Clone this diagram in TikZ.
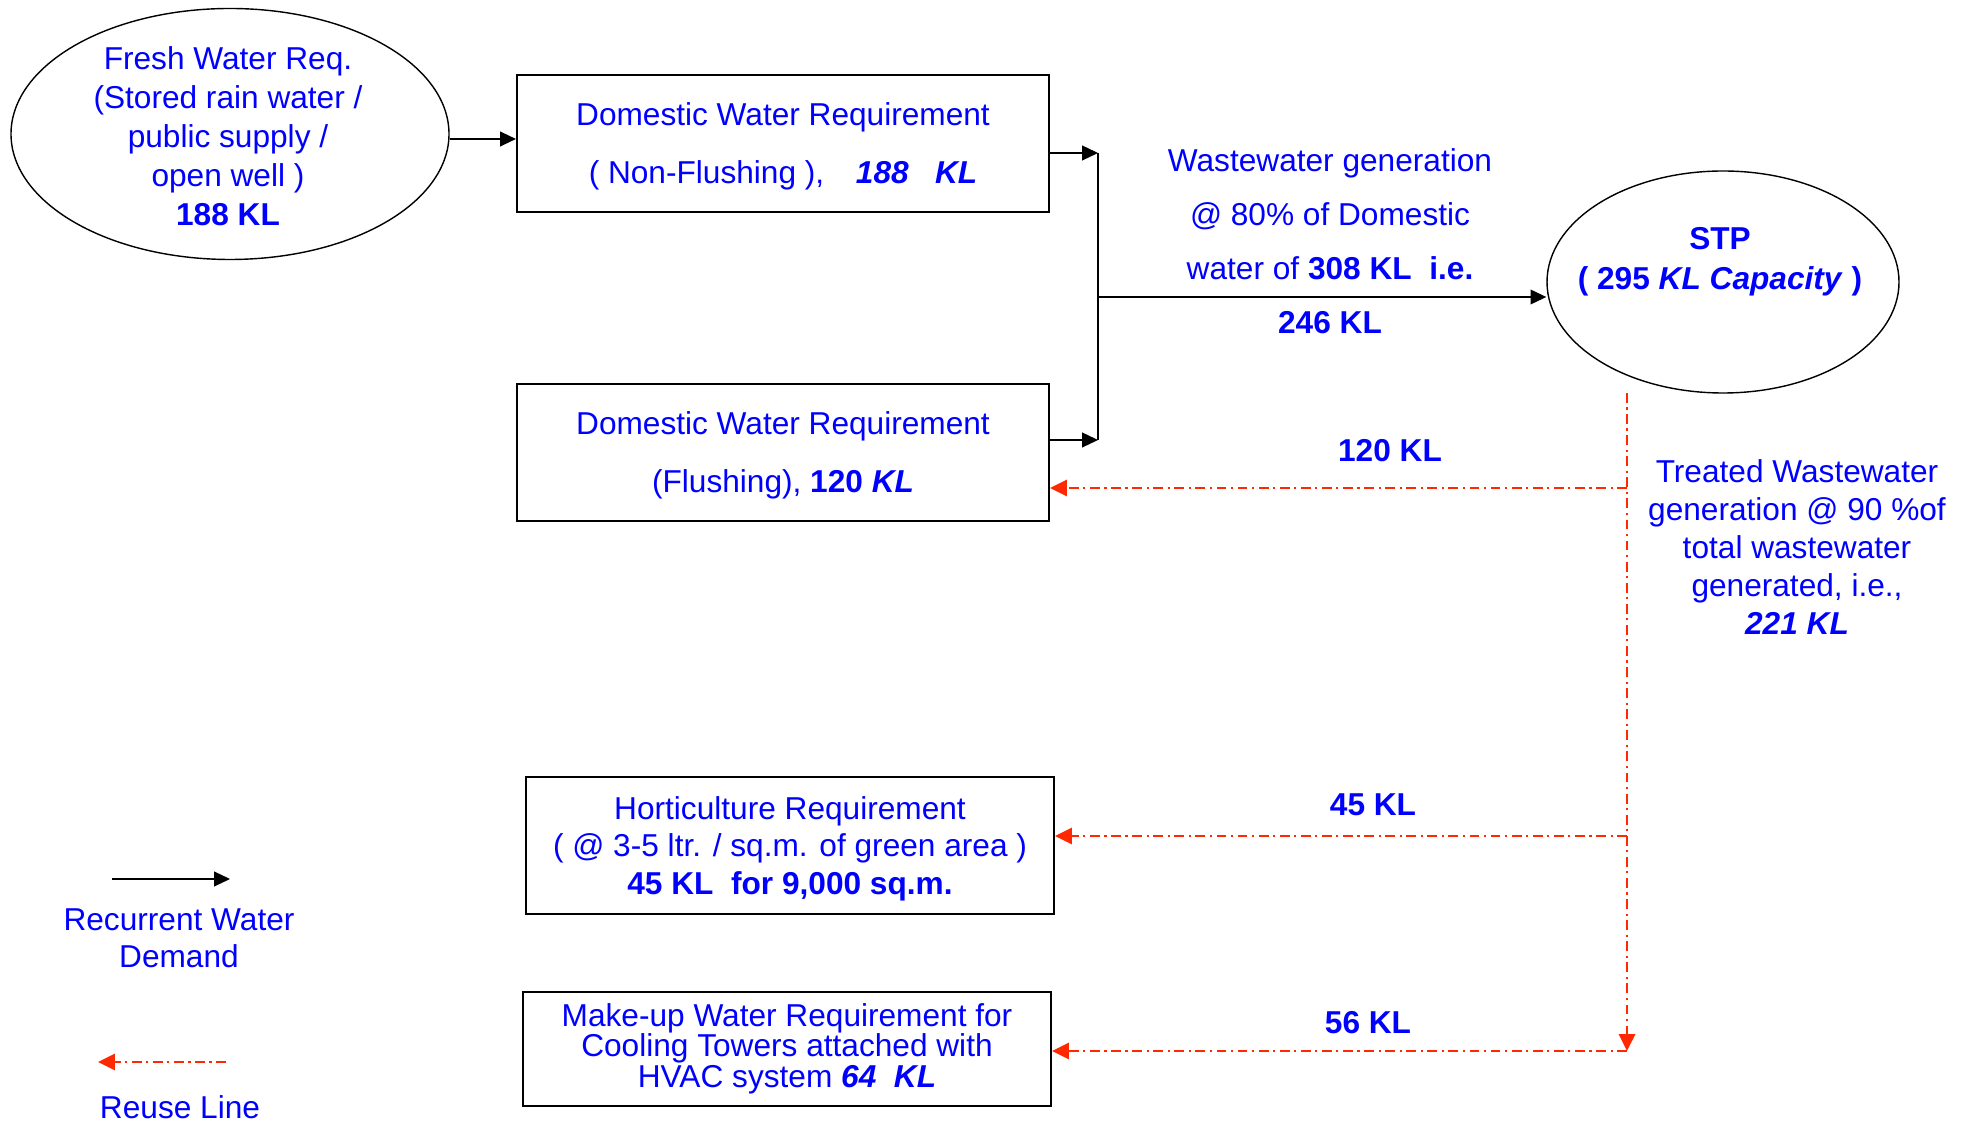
\documentclass[tikz,border=0pt]{standalone}
\usepackage{fontspec}
\setmainfont{Liberation Sans}
\usetikzlibrary{arrows.meta,shapes.geometric}
\definecolor{txtblue}{RGB}{0,0,255}
\definecolor{reusered}{RGB}{255,40,0}
\newcommand{\KL}[1]{\textbf{#1 KL}}

\begin{document}
\begin{tikzpicture}[
  >={Triangle[length=4.5pt,width=4.2pt]},
  every node/.style={text=txtblue, align=center, font=\fontsize{9}{11}\selectfont},
  lsp/.style={font=\fontsize{9}{#1}\selectfont},
  reqbox/.style={draw=black, semithick, minimum width=5.32cm, minimum height=1.37cm, inner sep=0pt, text depth=0pt},
  tank/.style={draw=black, ellipse, thin, inner sep=0pt},
  flow/.style={->, thin},
  reuse/.style={-{Triangle[length=4.8pt,width=4.6pt]}, reusered, line width=0.7pt, dash pattern=on 2.8pt off 1.3pt on 0.6pt off 1.3pt}
]
  \useasboundingbox (0,0) rectangle (19.69,-11.21);

  % Source
  \node[tank, minimum width=4.38cm, minimum height=2.51cm] (fresh) at (2.30,-1.34) {};
  \node[lsp=11.1pt] (freshtxt) at (2.28,-1.365)
    {Fresh Water Req.\\(Stored rain water /\\public supply /\\open well )\\\KL{188}};

  % Domestic demand
  \node[reqbox, lsp=16.5pt] (box1) at (7.83,-1.435)
    {Domestic Water Requirement\\( Non-Flushing ),\quad \textbf{\textit{188\ \ \ KL}}};
  \node[reqbox, lsp=16.5pt] (flush) at (7.83,-4.525)
    {Domestic Water Requirement\\(Flushing), \textbf{120 \textit{KL}}};

  % Reuse demand
  \node[reqbox, minimum width=5.28cm, lsp=10.7pt] (horti) at (7.90,-8.455)
    {Horticulture Requirement\\( @ 3-5 ltr. / sq.m. of green area )\\\textbf{45 KL\ \ for 9,000 sq.m.}};
  \node[reqbox, minimum width=5.28cm, minimum height=1.14cm, text depth=2pt, lsp=8.6pt] (makeup) at (7.87,-10.49)
    {Make-up Water Requirement for\\Cooling Towers attached with\\HVAC system \textbf{\textit{64\ \ KL}}};

  % STP
  \node[tank, minimum width=3.52cm, minimum height=2.22cm] (stp) at (17.23,-2.82) {};
  \node[lsp=11.5pt] (stptxt) at (17.20,-2.62) {\textbf{STP}\\\textbf{( 295 \textit{KL Capacity} )}};

  % Wastewater
  \coordinate (jtop) at (10.98,-1.53);
  \coordinate (jmid) at (10.98,-2.97);
  \coordinate (jbot) at (10.98,-4.40);
  \draw[flow] ([yshift=-0.05cm]fresh.east) -- ([yshift=-0.05cm]fresh.east -| box1.west);
  \draw[flow] (box1.east |- jtop) -- (jtop);
  \draw[flow] (flush.east |- jbot) -- (jbot);
  \draw[thin] (jtop) -- (jbot);
  \draw[flow] (jmid) -- (jmid -| stp.west);
  \node[lsp=15.4pt] (wwtxt) at (13.30,-2.41)
    {Wastewater generation\\@ 80\% of Domestic\\water of \textbf{308 KL\ \ i.e.}\\\KL{246}};

  % Treated water
  \coordinate (rtop) at (16.27,-3.93);
  \coordinate (r120) at (16.27,-4.88);
  \coordinate (r45) at (16.27,-8.36);
  \coordinate (r56) at (16.27,-10.51);
  \draw[reuse] (rtop) -- (r56);
  \draw[reuse] (r120) -- (r120 -| flush.east);
  \draw[reuse] (r45) -- (r45 -| horti.east);
  \draw[reuse] (r56) -- (r56 -| makeup.east);
  \node (q120) at (13.90,-4.51) {\KL{120}};
  \node (q45) at (13.73,-8.05) {\KL{45}};
  \node (q56) at (13.68,-10.23) {\KL{56}};
  \node[lsp=10.8pt] (treated) at (17.97,-5.47)
    {Treated Wastewater\\generation @ 90 \%of\\total wastewater\\generated, i.e.,\\\textbf{\textit{221 KL}}};

  % Legend
  \coordinate (legA) at (1.12,-8.79);
  \coordinate (legB) at (2.30,-8.79);
  \coordinate (legC) at (2.26,-10.62);
  \coordinate (legD) at (0.98,-10.62);
  \draw[flow] (legA) -- (legB);
  \node[lsp=10.5pt] (legrec) at (1.79,-9.385) {Recurrent Water\\Demand};
  \draw[reuse] (legC) -- (legD);
  \node (legreuse) at (1.80,-11.07) {Reuse Line};
\end{tikzpicture}
\end{document}
